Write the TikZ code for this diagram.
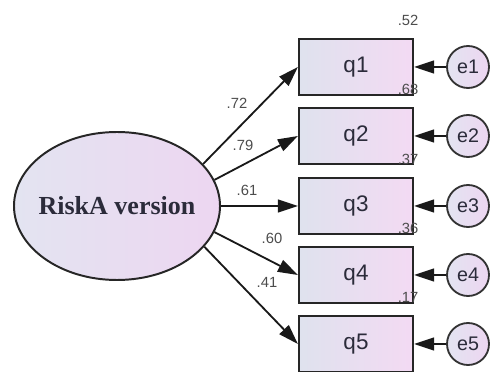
\documentclass[tikz,border=0pt]{standalone}
\usepackage{fontspec}
\setmainfont{Liberation Sans}
\newfontfamily\timesfont{Liberation Serif}
\usetikzlibrary{shapes.geometric,arrows.meta,positioning}

\definecolor{boxleft}{HTML}{DFE2EE}
\definecolor{boxright}{HTML}{F3DAF3}
\definecolor{latleft}{HTML}{E3E4F1}
\definecolor{latright}{HTML}{EDD6F1}
\definecolor{txt}{HTML}{2B2B3A}

\tikzset{
  latent/.style={ellipse,draw=black!85,line width=1.4pt,minimum width=5.15cm,
    minimum height=3.7cm,inner sep=0pt,left color=latleft,right color=latright},
  observed/.style={rectangle,draw=black!85,line width=1.6pt,minimum width=2.85cm,
    minimum height=1.4cm,left color=boxleft,right color=boxright,text=txt,
    font=\fontsize{16}{18}\selectfont},
  errorterm/.style={circle,draw=black!80,line width=1.3pt,minimum size=1.05cm,
    inner sep=0pt,left color=latleft,right color=latright,text=txt,
    font=\fontsize{14}{16}\selectfont},
  coef/.style={font=\fontsize{10.5}{12}\selectfont,text=black!70,inner sep=0pt},
  loading/.style={line width=1.3pt,draw=black!90,-{Triangle[length=0.5cm,width=0.32cm]}}
}

\begin{document}
\begin{tikzpicture}
    \useasboundingbox (0,0) rectangle (12.3,9.3);

    % latent factor
    \node[latent] (risk) at (2.925,4.15) {};
    \node[text=txt,font=\timesfont\bfseries\fontsize{18.5}{20}\selectfont] (risklbl) at (risk.center) {RiskA version};

    % items, error terms and squared multiple correlations
    \foreach \i/\y/\r in {1/7.625/.52, 2/5.9/.68, 3/4.15/.37, 4/2.425/.36, 5/0.7/.17}{%
        \node[observed] (q\i) at (8.9,\y) {q\i};
        \node[errorterm] (e\i) at (11.7,\y) {e\i};
        \node[coef] (r\i) at ([shift={(-0.15,0.425)}]q\i.north east) {\r};
        \draw[loading] (e\i) -- (q\i);
    }

    % loadings
    \foreach \i/\a in {1/26,2/15,3/0,4/-15,5/-25}
        \draw[loading] (risk.\a) -- (q\i.west);

    % standardized weights
    \node[coef] (w1) at (5.925,6.725) {.72};
    \node[coef] (w2) at (6.075,5.675) {.79};
    \node[coef] (w3) at (6.175,4.55)  {.61};
    \node[coef] (w4) at (6.8,3.35)    {.60};
    \node[coef] (w5) at (6.675,2.25)  {.41};

\end{tikzpicture}
\end{document}
